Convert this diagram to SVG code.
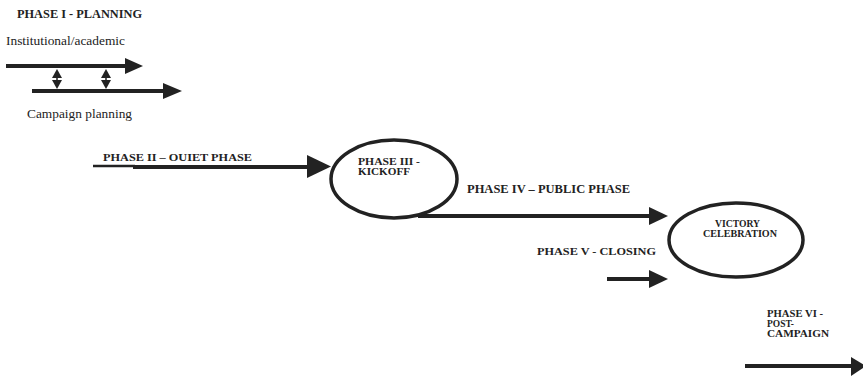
<svg xmlns="http://www.w3.org/2000/svg" width="863" height="377" viewBox="0 0 863 377">
<style>
.b{font-family:"Liberation Serif","Times New Roman",serif;font-weight:bold;fill:#222}
.r{font-family:"Liberation Serif","Times New Roman",serif;fill:#222}
.ln{stroke:#222;stroke-width:4;fill:none}
.th{stroke:#222;stroke-width:1.5;fill:none}
.hd{fill:#222}
.el{fill:#fff;stroke:#222;stroke-width:3.5}
</style>
<rect width="863" height="377" fill="#fff"/>
<g id="labels">
<text class="b" x="17" y="18" font-size="11.5" textLength="125" lengthAdjust="spacingAndGlyphs">PHASE I - PLANNING</text>
<text class="r" x="6" y="45" font-size="12.5" textLength="119" lengthAdjust="spacingAndGlyphs">Institutional/academic</text>
<text class="r" x="27" y="118" font-size="12.5" textLength="105" lengthAdjust="spacingAndGlyphs">Campaign planning</text>
<text class="b" x="103" y="161" font-size="11" textLength="149" lengthAdjust="spacingAndGlyphs">PHASE II – OUIET PHASE</text>
<text class="b" x="467" y="193" font-size="11.5" textLength="163" lengthAdjust="spacingAndGlyphs">PHASE IV – PUBLIC PHASE</text>
<text class="b" x="537" y="255" font-size="11" textLength="119" lengthAdjust="spacingAndGlyphs">PHASE V - CLOSING</text>
<text class="b" x="767" y="317" font-size="9.5" textLength="56" lengthAdjust="spacingAndGlyphs">PHASE VI -</text>
<text class="b" x="767" y="327" font-size="9.5" textLength="27" lengthAdjust="spacingAndGlyphs">POST-</text>
<text class="b" x="767" y="337" font-size="9.5" textLength="62" lengthAdjust="spacingAndGlyphs">CAMPAIGN</text>
</g>
<g id="connectors">
<line class="ln" x1="6" y1="66" x2="127" y2="66"/>
<polygon class="hd" points="125,58 143,66 125,74"/>
<line class="ln" x1="32" y1="91" x2="165" y2="91"/>
<polygon class="hd" points="163,83 182,91 163,99"/>
<line class="th" x1="57" y1="74" x2="57" y2="84"/>
<polygon class="hd" points="57,69 52,78 62,78"/>
<polygon class="hd" points="57,89 52,80 62,80"/>
<line class="th" x1="106" y1="74" x2="106" y2="84"/>
<polygon class="hd" points="106,69 101,78 111,78"/>
<polygon class="hd" points="106,89 101,80 111,80"/>
<line stroke="#222" stroke-width="2.5" x1="93" y1="166" x2="135" y2="166"/>
<line class="ln" x1="133" y1="167" x2="310" y2="167"/>
<polygon class="hd" points="307,155 331,166.5 307,178"/>
<line class="ln" x1="418" y1="216" x2="652" y2="216"/>
<polygon class="hd" points="649,207 668,216 649,225"/>
<line class="ln" x1="607" y1="279" x2="652" y2="279"/>
<polygon class="hd" points="649,270 668,279 649,288"/>
<line class="ln" x1="745" y1="366" x2="853" y2="366"/>
<polygon class="hd" points="851,357 866,366 851,376"/>
</g>
<g id="kickoff">
<ellipse class="el" cx="394" cy="179" rx="63" ry="39"/>
<text class="b" x="358" y="165" font-size="10" textLength="62" lengthAdjust="spacingAndGlyphs">PHASE  III -</text>
<text class="b" x="358" y="175" font-size="10" textLength="52" lengthAdjust="spacingAndGlyphs">KICKOFF</text>
</g>
<g id="victory">
<ellipse class="el" cx="736" cy="240" rx="67" ry="37"/>
<text class="b" x="715" y="227" font-size="9.5" textLength="45" lengthAdjust="spacingAndGlyphs">VICTORY</text>
<text class="b" x="703" y="237" font-size="9.5" textLength="74" lengthAdjust="spacingAndGlyphs">CELEBRATION</text>
</g>
</svg>
